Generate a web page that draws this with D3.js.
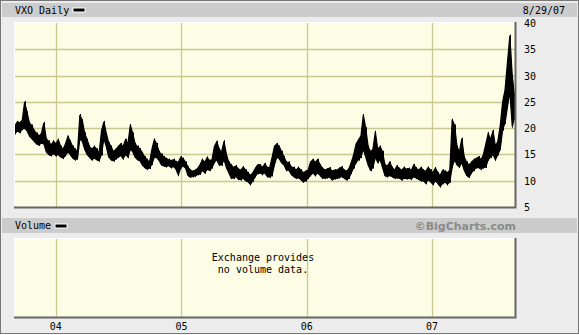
<!DOCTYPE html>
<html>
<head>
<meta charset="utf-8">
<script src="https://cdn.jsdelivr.net/npm/d3@7"></script>
<style>
  body { margin: 0; background: #fff; }
  text { font-family: "DejaVu Sans Mono", monospace; font-size: 10px; fill: #000; }
</style>
</head>
<body>
<div id="chart"></div>
<script>
"use strict";

// weekly high / low of VXO, week 0 starts 2003-09-01
const weekStart = new Date(2003, 8, 1);
const highs = [
  20.5, 21.2, 21.0, 21.5, 25.0, 23.0, 21.0, 20.5, 19.5, 19.0,
  18.5, 19.0, 21.0, 18.0, 17.5, 16.8, 17.5, 17.0, 17.8, 16.5,
  16.0, 17.0, 18.4, 17.5, 16.5, 16.0, 15.5, 22.5, 21.5, 19.0,
  17.8, 16.5, 16.0, 16.5, 16.0, 15.2, 19.5, 21.2, 19.0, 17.2,
  16.5, 15.5, 16.0, 16.5, 17.0, 16.5, 17.8, 17.0, 20.6, 19.0,
  17.0, 16.5, 16.0, 15.3, 14.5, 14.0, 13.5, 16.0, 17.8, 17.0,
  15.5, 15.0, 14.5, 14.2, 14.0, 13.8, 14.0, 13.6, 13.5, 14.5,
  14.2, 13.5, 12.6, 12.0, 11.8, 12.0, 12.3, 13.0, 14.0, 13.5,
  14.4, 13.8, 14.0, 16.5, 17.4, 16.0, 15.5, 17.5, 15.0, 13.5,
  13.0, 12.5, 12.8, 12.2, 12.0, 12.6, 12.0, 11.5, 11.0, 11.5,
  12.3, 13.0, 13.0, 12.5, 13.2, 12.5, 12.5, 14.4, 16.5, 17.0,
  16.5, 15.5, 14.5, 13.5, 13.5, 12.6, 12.5, 12.0, 12.5, 12.0,
  11.5, 11.8, 12.0, 13.5, 14.0, 13.5, 14.0, 13.0, 12.4, 12.0,
  12.2, 12.4, 11.8, 12.0, 12.0, 12.3, 12.6, 12.0, 11.8, 12.3,
  13.5, 15.0, 17.0, 17.8, 18.5, 22.5, 20.0, 16.5, 15.5, 16.0,
  19.3, 16.0, 16.5, 15.5, 13.0, 12.8, 13.5, 12.5, 12.0, 12.8,
  12.3, 12.0, 12.5, 12.2, 12.3, 12.0, 13.0, 12.4, 12.0, 12.5,
  12.0, 11.8, 12.5, 12.0, 11.5, 12.4, 11.5, 11.0, 12.0, 11.8,
  11.5, 12.0, 21.6, 20.5, 16.5, 15.5, 18.0, 14.5, 13.5, 13.0,
  13.5, 14.0, 14.2, 14.5, 14.0, 15.0, 17.0, 19.0, 17.8, 19.5,
  16.5, 17.5, 20.5, 25.0, 27.3, 32.5, 37.6, 30.0, 26.0
];
const lows = [
  19.0, 19.5, 19.2, 19.8, 20.0, 19.5, 18.5, 18.0, 17.5, 17.0,
  16.8, 17.2, 17.0, 15.5, 15.0, 14.8, 15.2, 14.8, 15.0, 14.5,
  14.3, 14.8, 15.5, 15.0, 14.3, 14.0, 14.2, 18.0, 17.5, 16.0,
  15.0, 14.5, 14.0, 14.3, 14.0, 13.8, 15.0, 18.0, 16.5, 14.5,
  14.0, 13.8, 14.2, 14.5, 14.8, 14.2, 15.0, 14.5, 16.0, 15.5,
  14.5, 14.0, 13.8, 13.0, 12.5, 12.2, 12.4, 13.2, 14.5, 14.4,
  13.8, 13.0, 12.8, 12.7, 12.9, 12.5, 12.7, 12.2, 11.1, 12.5,
  12.8, 12.4, 11.0, 10.7, 10.8, 10.9, 11.2, 11.3, 12.0, 11.5,
  12.2, 12.0, 12.5, 13.5, 14.0, 13.0, 13.0, 14.0, 12.5, 11.5,
  10.5, 10.5, 10.8, 10.3, 10.2, 10.5, 10.0,  9.8,  9.3, 10.0,
  10.8, 11.4, 11.5, 11.2, 11.5, 10.8, 10.7, 11.0, 13.0, 14.5,
  14.2, 13.4, 13.0, 12.0, 12.0, 11.2, 10.8, 10.5, 10.6, 10.2,
   9.8, 10.0, 10.5, 11.0, 11.5, 11.0, 11.5, 11.0, 10.5, 10.5,
  10.6, 10.7, 10.2, 10.4, 10.5, 10.6, 10.8, 10.5, 10.2, 10.5,
  11.5, 12.5, 13.5, 14.0, 14.5, 16.0, 14.5, 13.0, 12.0, 12.5,
  14.5, 13.5, 14.0, 12.5, 11.0, 10.8, 11.0, 10.8, 10.5, 10.6,
  10.5, 10.2, 10.5, 10.4, 10.5, 10.3, 10.8, 10.5, 10.3, 10.0,
  10.0,  9.5, 10.2,  9.8,  9.3, 10.0,  9.5,  8.9,  9.5,  9.8,
   9.3,  9.8, 12.6, 14.0, 13.0, 12.6, 13.5, 12.0, 11.0, 10.7,
  11.5, 12.0, 12.5, 12.5, 12.2, 12.5, 12.6, 14.0, 14.5, 15.0,
  14.0, 15.0, 16.0, 19.7, 21.0, 24.0, 27.0, 20.3, 22.0
];
const yTicks = [40, 35, 30, 25, 20, 15, 10, 5];
const yearTicks = [2004, 2005, 2006, 2007];
const yearLabels = ["04", "05", "06", "07"];
const lastDate = "8/29/07";

const W = 579, H = 335;
const plot = {left: 14, right: 515, top: 22, bottom: 207};
const vol = {top: 238, bottom: 317};

const svg = d3.select("#chart").append("svg")
    .attr("width", W)
    .attr("height", H);

// dithered yellow fill
const pat = svg.append("defs").append("pattern")
    .attr("id", "dither")
    .attr("width", 2).attr("height", 2)
    .attr("patternUnits", "userSpaceOnUse");
pat.append("rect").attr("width", 2).attr("height", 2).attr("fill", "#ffffbe");
pat.append("rect").attr("width", 1).attr("height", 1).attr("fill", "#ffffe8");
pat.append("rect").attr("x", 1).attr("y", 1).attr("width", 1).attr("height", 1).attr("fill", "#ffffe8");

// outer frame
svg.append("rect")
    .attr("x", 0.5).attr("y", 0.5)
    .attr("width", W - 1).attr("height", H - 2)
    .attr("fill", "#ececec")
    .attr("stroke", "#777");

// header bars
function headerBar(y0, y1) {
    svg.append("rect")
        .attr("x", 2).attr("y", y0)
        .attr("width", W - 4).attr("height", y1 - y0)
        .attr("fill", "#cccccc");
}
headerBar(3, 17);
headerBar(218, 233);

function swatch(x, y) {
    svg.append("rect")
        .attr("x", x).attr("y", y)
        .attr("width", 12).attr("height", 4)
        .attr("fill", "#000")
        .attr("stroke", "#fff")
        .attr("stroke-width", 1);
}

svg.append("text").attr("x", 15).attr("y", 14).text("VXO Daily");
swatch(73, 8);
svg.append("text").attr("x", 565).attr("y", 14)
    .attr("text-anchor", "end").text(lastDate);

svg.append("text").attr("x", 15).attr("y", 229).text("Volume");
swatch(55, 224);
svg.append("text").attr("x", 516).attr("y", 230)
    .attr("text-anchor", "end")
    .style("font-family", "'DejaVu Sans', Verdana, sans-serif")
    .style("font-weight", "bold")
    .style("font-size", "11px")
    .style("fill", "#8a8a8a")
    .text("\u00a9BigCharts.com");

// scales
const x = d3.scaleTime()
    .domain([new Date(2003, 8, 1), new Date(2007, 7, 31)])
    .range([plot.left, plot.right]);
const y = d3.scaleLinear()
    .domain([5, 40])
    .range([plot.bottom, plot.top + 1]);

function panel(y0, y1) {
    svg.append("rect")
        .attr("x", plot.left).attr("y", y0)
        .attr("width", plot.right - plot.left).attr("height", y1 - y0)
        .attr("fill", "url(#dither)");
    svg.append("g")
        .selectAll("line")
        .data(yearTicks)
        .enter()
        .append("line")
        .attr("x1", d => Math.round(x(new Date(d, 0, 1))) + 0.5)
        .attr("x2", d => Math.round(x(new Date(d, 0, 1))) + 0.5)
        .attr("y1", y0).attr("y2", y1)
        .attr("stroke", "#c8c890")
        .attr("stroke-width", 1.3);
}

function panelBorder(y0, y1) {
    svg.append("path")
        .attr("d", `M${plot.left + 0.5},${y1}V${y0 + 0.5}H${plot.right}`)
        .attr("fill", "none").attr("stroke", "#fff");
    svg.append("path")
        .attr("d", `M${plot.left},${y1 + 0.5}H${plot.right + 0.5}V${y0}`)
        .attr("fill", "none").attr("stroke", "#666").attr("stroke-width", 2);
}

panel(plot.top, plot.bottom);
svg.append("g")
    .selectAll("line")
    .data(yTicks.slice(1, -1))
    .enter()
    .append("line")
    .attr("x1", plot.left).attr("x2", plot.right)
    .attr("y1", d => Math.round(y(d)) + 0.5)
    .attr("y2", d => Math.round(y(d)) + 0.5)
    .attr("stroke", "#c8c890")
    .attr("stroke-width", 1.3);

// weekly high-low range, drawn as a band through mid-week points
const bars = highs.map((h, i) => ({
    date: d3.timeDay.offset(d3.timeWeek.offset(weekStart, i), 3),
    high: h,
    low: lows[i]
}));
const band = d3.area()
    .x(d => x(d.date))
    .y0(d => y(d.low))
    .y1(d => y(d.high));
svg.append("path")
    .datum(bars)
    .attr("d", band)
    .attr("fill", "#000")
    .attr("stroke", "#000")
    .attr("stroke-width", 1.2)
    .attr("stroke-linejoin", "miter");

svg.append("g")
    .selectAll("line")
    .data(bars)
    .enter()
    .append("line")
    .attr("x1", d => Math.round(x(d.date)) + 0.5)
    .attr("x2", d => Math.round(x(d.date)) + 0.5)
    .attr("y1", d => y(d.high) - 1)
    .attr("y2", d => y(d.low) + 1)
    .attr("stroke", "#000")
    .attr("stroke-width", 1);

panelBorder(plot.top, plot.bottom);

// y labels
svg.append("g")
    .selectAll("text")
    .data(yTicks)
    .enter()
    .append("text")
    .attr("x", 524)
    .attr("y", d => y(d) + 4)
    .text(d => d);

// volume panel
panel(vol.top, vol.bottom);
panelBorder(vol.top, vol.bottom);
svg.append("text").attr("x", 263).attr("y", 261)
    .attr("text-anchor", "middle").text("Exchange provides");
svg.append("text").attr("x", 263).attr("y", 273)
    .attr("text-anchor", "middle").text("no volume data.");

// x labels
svg.append("g")
    .selectAll("text")
    .data(yearTicks)
    .enter()
    .append("text")
    .attr("x", d => x(new Date(d, 0, 1)))
    .attr("y", 330)
    .attr("text-anchor", "middle")
    .text((d, i) => yearLabels[i]);
</script>
</body>
</html>
